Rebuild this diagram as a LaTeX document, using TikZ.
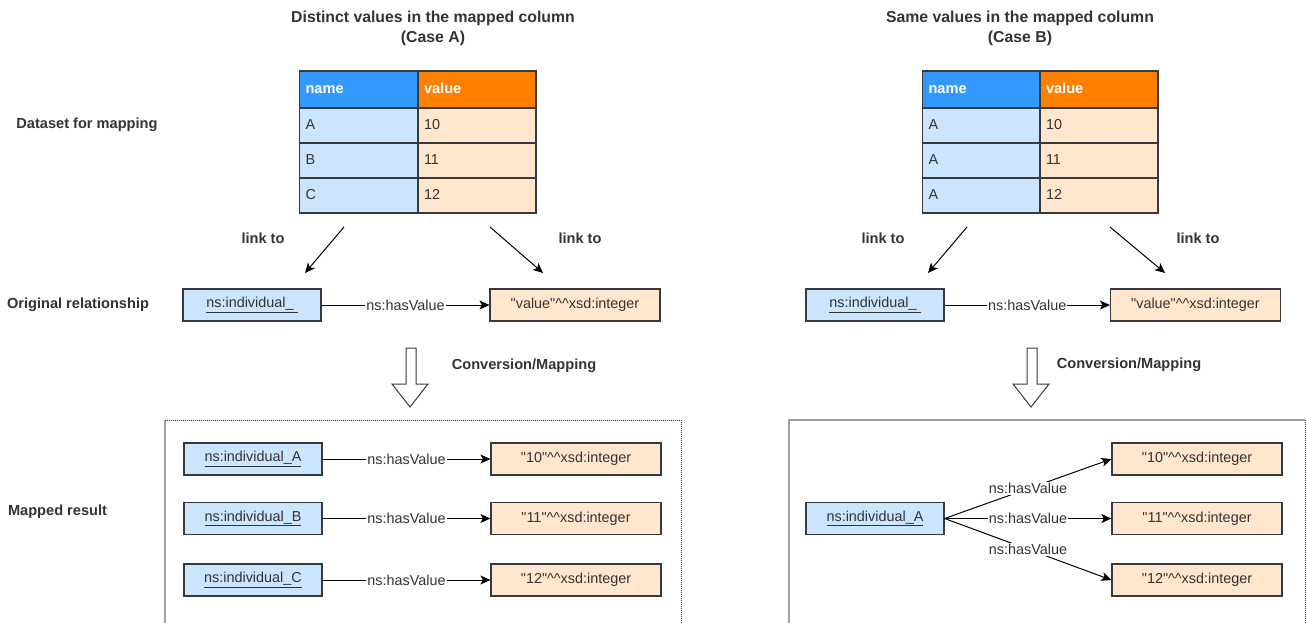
\documentclass[tikz,border=0pt]{standalone}
\usepackage{fontspec}
\setmainfont{Liberation Sans}
\usepackage{xcolor}
\usetikzlibrary{positioning,arrows.meta}

\definecolor{txtc}{HTML}{333333}
\definecolor{linec}{HTML}{36393D}
\definecolor{hdblue}{HTML}{3399FF}
\definecolor{hdorange}{HTML}{FF8000}
\definecolor{cellblue}{HTML}{CCE5FF}
\definecolor{cellorange}{HTML}{FFE6CC}
\definecolor{framec}{HTML}{A0A0A0}

\newcommand{\qq}{\textquotedbl}

\begin{document}
\begin{tikzpicture}[
          x=1pt, y=-1pt,
          every node/.style={text=txtc, font=\fontsize{14.4}{20}\selectfont},
          lbl/.style={font=\fontsize{14.6}{20}\selectfont\bfseries},
          ttl/.style={font=\fontsize{15.8}{20}\selectfont\bfseries, align=center},
          cellhd/.style={draw=linec, line width=1.2pt, minimum height=37pt, text width=106pt,
                         text height=10.5pt, text depth=3pt,
                         inner xsep=6pt, align=left, text=white, font=\fontsize{14.6}{16}\selectfont\bfseries},
          cellname/.style={draw=linec, line width=1.2pt, fill=cellblue, minimum height=35pt,
                           text height=10.5pt, text depth=3pt,
                           text width=106pt, inner xsep=6pt, align=left},
          cellval/.style={draw=linec, line width=1.2pt, fill=cellorange, minimum height=35pt,
                          text height=10.5pt, text depth=3pt,
                          text width=106pt, inner xsep=6pt, align=left},
          indiv/.style={draw=linec, line width=1.2pt, fill=cellblue, minimum width=138pt, minimum height=32pt},
          literal/.style={draw=linec, line width=1.2pt, fill=cellorange, minimum width=170pt, minimum height=32pt},
          rel/.style={-{Stealth[length=10pt, width=9pt, inset=2.5pt]}, line width=1pt, draw=black},
          rellbl/.style={fill=white, inner sep=1pt},
          blockarrow/.style={draw=linec, line width=1pt, fill=white},
          framesolid/.style={draw=framec, line width=1.2pt},
          framedot/.style={draw=linec, line width=0.8pt, dash pattern=on 1pt off 1pt}
      ]
        \clip (0,0) rectangle (1307,622);

        % row labels
        \node[lbl] (lblData) at (87,125) {Dataset for mapping};
        \node[lbl] (lblOrig) at (78,305) {Original relationship};
        \node[lbl] (lblMap) at (57.5,512) {Mapped result};

        % ---------- case A ----------
        \node[ttl] (titleA) at (433,28) {Distinct values in the mapped column\\(Case A)};
        \node[cellhd, fill=hdblue] (hdNameA) at (358.5,89.5) {name};
        \node[cellhd, fill=hdorange] (hdValA) at (477,89.5) {value};
        \node[cellname] (nameA1) at (358.5,125.5) {A};
        \node[cellval] (valA1) at (477,125.5) {10};
        \node[cellname] (nameA2) at (358.5,160.5) {B};
        \node[cellval] (valA2) at (477,160.5) {11};
        \node[cellname] (nameA3) at (358.5,195.5) {C};
        \node[cellval] (valA3) at (477,195.5) {12};

        \node[lbl] (linkAl) at (263,238) {link to};
        \node[lbl] (linkAr) at (580,238) {link to};
        \coordinate (linkAls) at (344,227);
        \coordinate (linkAle) at (305,273);
        \coordinate (linkArs) at (490,227);
        \coordinate (linkAre) at (543,273);
        \draw[rel] (linkAls) -- (linkAle);
        \draw[rel] (linkArs) -- (linkAre);

        \node[indiv] (origIndA) at (252,305) {\underline{ns:individual\_\ }};
        \node[literal] (origLitA) at (575,305) {\qq value\qq\^{}\^{}xsd:integer};
        \draw[rel] (origIndA) -- node[rellbl] {ns:hasValue} (origLitA);

        \draw[blockarrow] (406,348) -- (416,348) -- (416,384) -- (428,384) -- (410,407)
                          -- (392,384) -- (406,384) -- cycle;
        \node[lbl] (convA) at (524,366) {Conversion/Mapping};

        \draw[framesolid] (165,640) -- (165,420);
        \draw[framedot] (165,420) -- (681,420) -- (681,640);

        \node[indiv] (indA) at (253,459) {\underline{ns:individual\_A}};
        \node[indiv] (indB) at (253,518.5) {\underline{ns:individual\_B}};
        \node[indiv] (indC) at (253,580) {\underline{ns:individual\_C}};
        \node[literal] (litA10) at (576,459) {\qq 10\qq\^{}\^{}xsd:integer};
        \node[literal] (litA11) at (576,518.5) {\qq 11\qq\^{}\^{}xsd:integer};
        \node[literal] (litA12) at (576,580) {\qq 12\qq\^{}\^{}xsd:integer};
        \draw[rel] (indA) -- node[rellbl] {ns:hasValue} (litA10);
        \draw[rel] (indB) -- node[rellbl] {ns:hasValue} (litA11);
        \draw[rel] (indC) -- node[rellbl] {ns:hasValue} (litA12);

        % ---------- case B ----------
        \node[ttl] (titleB) at (1020,28) {Same values in the mapped column\\(Case B)};
        \node[cellhd, fill=hdblue] (hdNameB) at (981.5,89.5) {name};
        \node[cellhd, fill=hdorange] (hdValB) at (1099,89.5) {value};
        \node[cellname] (nameB1) at (981.5,125.5) {A};
        \node[cellval] (valB1) at (1099,125.5) {10};
        \node[cellname] (nameB2) at (981.5,160.5) {A};
        \node[cellval] (valB2) at (1099,160.5) {11};
        \node[cellname] (nameB3) at (981.5,195.5) {A};
        \node[cellval] (valB3) at (1099,195.5) {12};

        \node[lbl] (linkBl) at (883,238) {link to};
        \node[lbl] (linkBr) at (1198,238) {link to};
        \coordinate (linkBls) at (967,227);
        \coordinate (linkBle) at (928,273);
        \coordinate (linkBrs) at (1110,227);
        \coordinate (linkBre) at (1165,273);
        \draw[rel] (linkBls) -- (linkBle);
        \draw[rel] (linkBrs) -- (linkBre);

        \node[indiv] (origIndB) at (875,305) {\underline{ns:individual\_\ }};
        \node[literal] (origLitB) at (1195.5,305) {\qq value\qq\^{}\^{}xsd:integer};
        \draw[rel] (origIndB) -- node[rellbl] {ns:hasValue} (origLitB);

        \draw[blockarrow] (1027,348) -- (1037,348) -- (1037,384) -- (1049,384) -- (1031,407)
                          -- (1013,384) -- (1027,384) -- cycle;
        \node[lbl] (convB) at (1129,365) {Conversion/Mapping};

        \draw[framesolid] (789,640) -- (789,420) -- (1305,420);
        \draw[framedot] (1305,420) -- (1305,640);

        \node[indiv] (indBA) at (875,518.5) {\underline{ns:individual\_A}};
        \node[literal] (litB10) at (1197,459) {\qq 10\qq\^{}\^{}xsd:integer};
        \node[literal] (litB11) at (1197,518.5) {\qq 11\qq\^{}\^{}xsd:integer};
        \node[literal] (litB12) at (1197,580) {\qq 12\qq\^{}\^{}xsd:integer};
        \draw[rel] (indBA.east) -- node[rellbl] {ns:hasValue} (litB10.west);
        \draw[rel] (indBA.east) -- node[rellbl] {ns:hasValue} (litB11.west);
        \draw[rel] (indBA.east) -- node[rellbl] {ns:hasValue} (litB12.west);
      \end{tikzpicture}
\end{document}
